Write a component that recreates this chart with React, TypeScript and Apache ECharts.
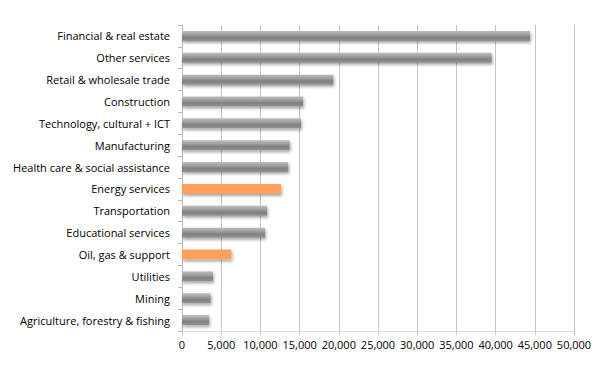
import React, { useEffect, useRef } from "react";
import * as echarts from "echarts";

const categories = [
  "Financial & real estate",
  "Other services",
  "Retail & wholesale trade",
  "Construction",
  "Technology, cultural + ICT",
  "Manufacturing",
  "Health care & social assistance",
  "Energy services",
  "Transportation",
  "Educational services",
  "Oil, gas & support",
  "Utilities",
  "Mining",
  "Agriculture, forestry & fishing",
];
const values = [44400, 39500, 19300, 15450, 15180, 13730, 13560, 12630, 10840, 10590, 6290, 3950, 3660, 3440];
const highlighted = ["Energy services", "Oil, gas & support"];
const xTicks = { min: 0, max: 50000, interval: 5000 };

export default function App() {
  const ref = useRef<HTMLDivElement>(null);
  useEffect(() => {
    if (!ref.current) return;
    const chart = echarts.init(ref.current, undefined, { renderer: "svg" });
    const grayGrad = new echarts.graphic.LinearGradient(0, 0, 0, 1, [
      { offset: 0, color: "#bdbdbd" },
      { offset: 0.35, color: "#a0a0a0" },
      { offset: 0.65, color: "#808080" },
      { offset: 1, color: "#939393" },
    ]);
    chart.setOption({
      animation: false,
      backgroundColor: "#ffffff",
      grid: { left: 182, right: 27, top: 25, bottom: 43, containLabel: false },
      xAxis: {
        type: "value",
        min: xTicks.min,
        max: xTicks.max,
        interval: xTicks.interval,
        axisLine: { show: true, lineStyle: { color: "#dcdcdc" } },
        axisTick: { show: true, length: 4, lineStyle: { color: "#c8c8c8" } },
        splitLine: { show: true, lineStyle: { color: "#c4c4c4", width: 1 } },
        axisLabel: {
          color: "#000",
          fontFamily: "Open Sans, Liberation Sans, sans-serif",
          fontSize: 11,
          margin: 8,
          formatter: (v: number) => v.toLocaleString("en-US"),
        },
      },
      yAxis: {
        type: "category",
        data: categories,
        inverse: true,
        axisLine: { show: true, lineStyle: { color: "#b8b8b8" } },
        axisTick: { show: true, length: 4, lineStyle: { color: "#b8b8b8" } },
        axisLabel: {
          color: "#000",
          fontFamily: "Open Sans, Liberation Sans, sans-serif",
          fontSize: 11,
          margin: 12,
        },
      },
      series: [
        {
          type: "bar",
          barWidth: 10,
          data: values.map((v, i) => ({
            value: v,
            itemStyle: {
              color: highlighted.includes(categories[i]) ? "#fda05c" : grayGrad,
              shadowColor: "rgba(0,0,0,0.35)",
              shadowBlur: 3,
              shadowOffsetX: 1,
              shadowOffsetY: 2,
            },
          })),
        },
      ],
    });
    return () => chart.dispose();
  }, []);
  return <div ref={ref} style={{ width: 601, height: 374, position: "absolute", left: 0, top: 0 }} />;
}
